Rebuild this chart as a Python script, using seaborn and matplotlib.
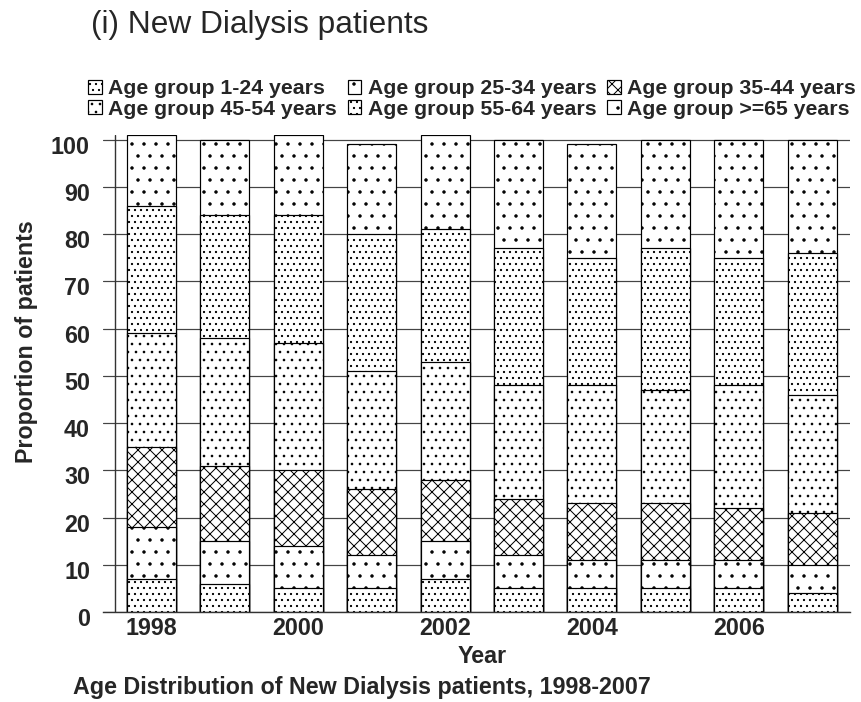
import numpy as np
import pandas as pd
import seaborn as sns
import matplotlib.pyplot as plt
import matplotlib.transforms as mtransforms
from matplotlib.patches import Patch

# data (percent of new dialysis patients)
years = ["1998", "1999", "2000", "2001", "2002", "2003", "2004", "2005", "2006", "2007"]
age_1_24 = [7, 6, 5, 5, 7, 5, 5, 5, 5, 4]
age_25_34 = [11, 9, 9, 7, 8, 7, 6, 6, 6, 6]
age_35_44 = [17, 16, 16, 14, 13, 12, 12, 12, 11, 11]
age_45_54 = [24, 27, 27, 25, 25, 24, 25, 24, 26, 25]
age_55_64 = [27, 26, 27, 29, 28, 29, 27, 30, 27, 30]
age_65_up = [15, 16, 17, 19, 20, 23, 24, 23, 25, 24]
groups = ["Age group 1-24 years", "Age group 25-34 years", "Age group 35-44 years",
          "Age group 45-54 years", "Age group 55-64 years", "Age group >=65 years"]
hatches = ["....", "..", "xxxx", "...", "....", ".."]

sns.set_theme(style="white")
plt.rcParams["font.family"] = ["Liberation Sans", "DejaVu Sans"]
plt.rcParams["hatch.linewidth"] = 0.5

DPI = 144  # hatch tile = 144 px, so hatch spacings land on whole pixels
W, H = 861, 702
PT = 72 / DPI  # points per pixel
fig = plt.figure(figsize=(W / DPI, H / DPI), dpi=DPI)
ax = fig.add_axes([103 / W, 90 / H, 747 / W, 477 / H])

shares = np.array([age_1_24, age_25_34, age_35_44, age_45_54, age_55_64, age_65_up])
cum = np.cumsum(shares, axis=0)
df = pd.DataFrame(cum.T, columns=groups)
df["Year"] = years

# stacked bars: draw the tallest cumulative first, smaller ones on top
for i in reversed(range(len(groups))):
    sns.barplot(data=df, x="Year", y=groups[i], color="white", edgecolor="black",
                linewidth=1.2 * PT, hatch=hatches[i], width=0.667, errorbar=None,
                saturation=1, ax=ax, zorder=2)

ax.set_xlim(-0.661, 9.515)
ax.set_ylim(0, 101)
ax.set_yticks(range(0, 101, 10))
ax.set_xticks(range(len(years)))
ax.set_xticklabels([y if i % 2 == 0 else "" for i, y in enumerate(years)])
ax.yaxis.grid(True, color="#444444", lw=1.2 * PT)
ax.set_axisbelow(True)
for s in ["top", "right", "left"]:
    ax.spines[s].set_visible(False)
ax.spines["bottom"].set_color("#333333")
ax.spines["bottom"].set_linewidth(1.4 * PT)
ax.axvline(-0.5, color="#333333", lw=1.4 * PT, zorder=1)

ax.tick_params(axis="both", length=0, labelsize=23.3 * PT)
ax.tick_params(axis="y", pad=13 * PT)
ax.tick_params(axis="x", pad=5 * PT)
shift = mtransforms.ScaledTranslation(0, -5 / DPI, fig.dpi_scale_trans)
for lbl in ax.get_yticklabels():
    lbl.set_fontweight("bold")
    lbl.set_transform(lbl.get_transform() + shift)
for lbl in ax.get_xticklabels():
    lbl.set_fontweight("bold")
ax.set_xlabel("")
ax.set_ylabel("")

fig.text(91 / W, 1 - 33 / H, "(i) New Dialysis patients", fontsize=31.6 * PT,
         ha="left", va="baseline")
fig.text(482 / W, 1 - 663 / H, "Year", fontsize=23.3 * PT, fontweight="bold",
         ha="center", va="baseline")
fig.text(27 / W, 1 - 342 / H, "Proportion of patients", fontsize=23.3 * PT,
         fontweight="bold", rotation=90, ha="center", va="center")
fig.text(73 / W, 1 - 694 / H, "Age Distribution of New Dialysis patients, 1998-2007",
         fontsize=23.3 * PT, fontweight="bold", ha="left", va="baseline")

# legend: two rows of three, matplotlib fills column by column
handles = [Patch(facecolor="white", edgecolor="black", lw=1.2 * PT, hatch=h) for h in hatches]
order = [0, 3, 1, 4, 2, 5]
fig.legend([handles[i] for i in order], [groups[i] for i in order], ncol=3,
           loc="center right", bbox_to_anchor=(856 / W, 1 - 99 / H),
           frameon=False, borderpad=0, borderaxespad=0,
           prop={"weight": "bold", "size": 21.2 * PT},
           handlelength=0.65, handleheight=0.65, handletextpad=0.3,
           columnspacing=0.5, labelspacing=0.05)

fig.savefig("out.png", dpi=DPI)
